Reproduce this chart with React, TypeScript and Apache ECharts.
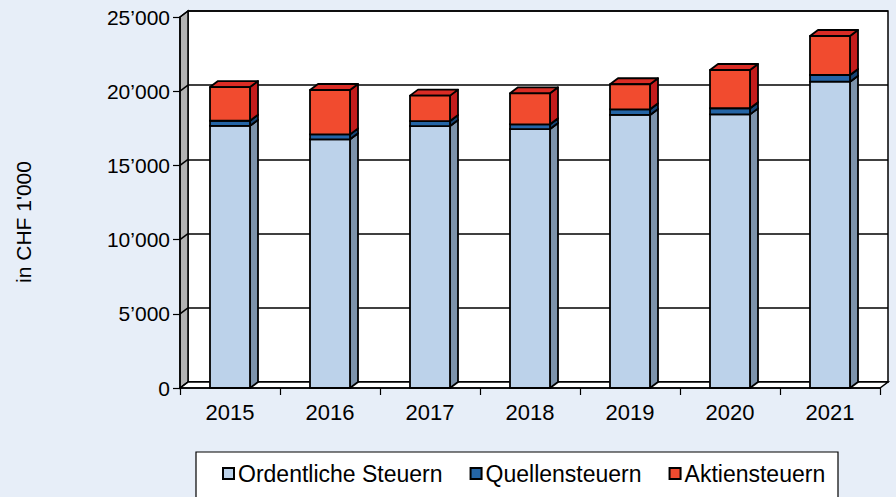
import React, { useEffect, useRef } from "react";
import * as echarts from "echarts";

const years = ["2015", "2016", "2017", "2018", "2019", "2020", "2021"];
const ordentliche = [17670, 16760, 17650, 17450, 18400, 18440, 20640];
const quellen = [340, 330, 340, 320, 380, 410, 450];
const aktien = [2270, 2990, 1710, 2090, 1690, 2580, 2630];
const yTicks = [0, 5000, 10000, 15000, 20000, 25000];

const seriesNames = ["Ordentliche Steuern", "Quellensteuern", "Aktiensteuern"];
const palette = [
  { front: "#bcd2ea", top: "#9db5cf", side: "#7d93ab" },
  { front: "#2465a6", top: "#1b5088", side: "#174576" },
  { front: "#f14b2f", top: "#da2c25", side: "#c41c1c" },
];

const W = 896;
const H = 497;
const G = { left: 180, right: 16, top: 17, bottom: 109 };
const DX = 8;
const DY = 6;
const HALF = 20;

const fmt = (v: number) =>
  v === 0 ? "0" : `${Math.floor(v / 1000)}\u2019${String(v % 1000).padStart(3, "0")}`;

export default function App() {
  const ref = useRef<HTMLDivElement>(null);
  useEffect(() => {
    if (!ref.current) return;
    const chart = echarts.init(ref.current, undefined, { renderer: "svg" });

    const stacks = [ordentliche, quellen, aktien];
    const bases = years.map(() => 0);
    const segData = stacks.map((arr) =>
      arr.map((v, i) => {
        const b = bases[i];
        bases[i] += v;
        return [i, b, b + v];
      })
    );

    const x0 = G.left;
    const x1 = W - G.right;
    const y0 = G.top;
    const y1 = H - G.bottom;

    const barSeries = segData.map((data, k) => ({
      type: "custom",
      name: seriesNames[k],
      xAxisIndex: 0,
      yAxisIndex: 0,
      z: 3 + k,
      data,
      renderItem: (params: any, api: any) => {
        const i = api.value(0);
        const b = api.value(1);
        const t = api.value(2);
        const pb = api.coord([i, b]);
        const pt = api.coord([i, t]);
        const cx = pb[0];
        const yb = pb[1];
        const yt = pt[1];
        const c = palette[k];
        const st = { stroke: "#000", lineWidth: 1.8, lineJoin: "round" };
        return {
          type: "group",
          children: [
            {
              type: "polygon",
              shape: {
                points: [
                  [cx + HALF, yt],
                  [cx + HALF + DX, yt - DY],
                  [cx + HALF + DX, yb - DY],
                  [cx + HALF, yb],
                ],
              },
              style: { fill: c.side, ...st },
            },
            {
              type: "polygon",
              shape: {
                points: [
                  [cx - HALF, yt],
                  [cx - HALF + DX, yt - DY],
                  [cx + HALF + DX, yt - DY],
                  [cx + HALF, yt],
                ],
              },
              style: { fill: c.top, ...st },
            },
            {
              type: "rect",
              shape: { x: cx - HALF, y: yt, width: HALF * 2, height: yb - yt },
              style: { fill: c.front, ...st },
            },
          ],
        };
      },
    }));

    const wallGrid = {
      type: "custom",
      name: "wall",
      xAxisIndex: 0,
      yAxisIndex: 0,
      z: 2,
      silent: true,
      data: yTicks.map((v) => [0, v]),
      renderItem: (params: any, api: any) => {
        const p = api.coord([0, api.value(1)]);
        const half = api.size([1, 0])[0] / 2;
        const xl = p[0] - half;
        return {
          type: "line",
          shape: { x1: xl, y1: p[1], x2: xl + DX, y2: p[1] - DY },
          style: { stroke: "#000", lineWidth: 1.5 },
        };
      },
    };

    chart.setOption({
      animation: false,
      backgroundColor: "#e7eef8",
      textStyle: { fontFamily: "Liberation Sans, Arial, sans-serif" },
      grid: [
        { ...G, containLabel: false },
        {
          left: G.left + DX,
          right: G.right - DX,
          top: G.top - DY,
          bottom: G.bottom + DY,
          show: true,
          backgroundColor: "#ffffff",
          borderColor: "#000",
          borderWidth: 1.5,
        },
      ],
      xAxis: [
        {
          type: "category",
          gridIndex: 0,
          data: years,
          boundaryGap: true,
          axisLine: { show: true, lineStyle: { color: "#000", width: 1.5 } },
          axisTick: { show: true, interval: 0, length: 7, lineStyle: { color: "#000", width: 1.2 } },
          axisLabel: { color: "#000", fontSize: 22, margin: 13 },
          splitLine: { show: false },
          z: 1,
        },
        {
          type: "category",
          gridIndex: 1,
          data: years,
          show: false,
        },
      ],
      yAxis: [
        {
          type: "value",
          gridIndex: 0,
          min: 0,
          max: 25000,
          interval: 5000,
          axisLine: { show: true, lineStyle: { color: "#000", width: 1.5 } },
          axisTick: { show: true, length: 7, lineStyle: { color: "#000", width: 1.2 } },
          axisLabel: { color: "#000", fontSize: 21, margin: 10, formatter: fmt },
          splitLine: { show: false },
          z: 1,
        },
        {
          type: "value",
          gridIndex: 1,
          min: 0,
          max: 25000,
          interval: 5000,
          axisLine: { show: false },
          axisTick: { show: false },
          axisLabel: { show: false },
          splitLine: { show: true, lineStyle: { color: "#000", width: 1.5 } },
        },
      ],
      legend: {
        left: 217,
        top: 457,
        itemWidth: 11,
        itemHeight: 11,
        itemGap: 27,
        icon: "rect",
        textStyle: { color: "#000", fontSize: 23, padding: [0, 0, 0, -1] },
        data: seriesNames.map((n, k) => ({
          name: n,
          itemStyle: { color: palette[k].front, borderColor: "#000", borderWidth: 2 },
        })),
        selectedMode: false,
      },
      graphic: [
        {
          type: "polygon",
          z: 1,
          silent: true,
          shape: {
            points: [
              [x0, y0],
              [x0 + DX, y0 - DY],
              [x0 + DX, y1 - DY],
              [x0, y1],
            ],
          },
          style: { fill: "#b3b3b3", stroke: "#000", lineWidth: 1.5 },
        },
        {
          type: "polygon",
          z: 1,
          silent: true,
          shape: {
            points: [
              [x0, y1],
              [x0 + DX, y1 - DY],
              [x1 + DX, y1 - DY],
              [x1, y1],
            ],
          },
          style: { fill: "#ffffff", stroke: "#000", lineWidth: 1.5 },
        },
        {
          type: "rect",
          z: 1,
          silent: true,
          shape: { x: 196, y: 452, width: 642, height: 60 },
          style: { fill: "#ffffff", stroke: "#000", lineWidth: 1.2 },
        },
        {
          type: "text",
          z: 5,
          silent: true,
          x: 23,
          y: 222,
          rotation: Math.PI / 2,
          style: {
            text: "in CHF 1'000",
            fill: "#000",
            fontSize: 21,
            fontFamily: "Liberation Sans, Arial, sans-serif",
            align: "center",
            verticalAlign: "middle",
          },
        },
      ],
      series: [wallGrid, ...barSeries],
    });

    return () => chart.dispose();
  }, []);

  return (
    <div
      ref={ref}
      style={{ position: "fixed", left: 0, top: 0, width: W, height: H }}
    />
  );
}
